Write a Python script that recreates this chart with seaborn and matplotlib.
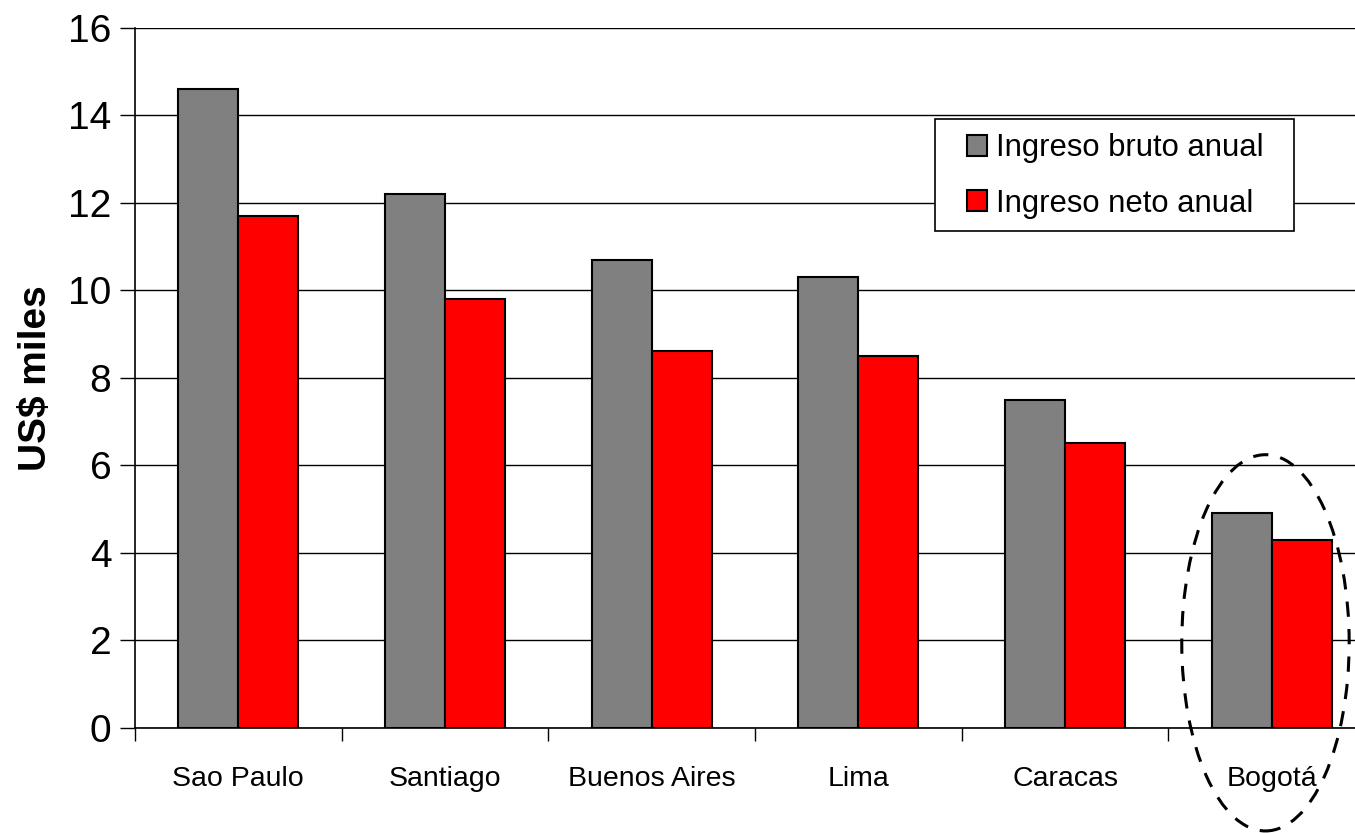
import matplotlib
matplotlib.use("Agg")
import matplotlib.pyplot as plt
from matplotlib.patches import Ellipse, Rectangle
import seaborn as sns
import pandas as pd

cities = ["Sao Paulo", "Santiago", "Buenos Aires", "Lima", "Caracas", "Bogotá"]
bruto = [14.6, 12.2, 10.7, 10.3, 7.5, 4.9]
neto = [11.7, 9.8, 8.6, 8.5, 6.5, 4.3]
series = ["Ingreso bruto anual", "Ingreso neto anual"]
y_ticks = [0, 2, 4, 6, 8, 10, 12, 14, 16]

df = pd.DataFrame({
    "city": cities * 2,
    "serie": [series[0]] * len(cities) + [series[1]] * len(cities),
    "value": bruto + neto,
})

sns.set_style("white", rc={"text.color": "black", "axes.labelcolor": "black",
                           "xtick.color": "black", "ytick.color": "black"})
plt.rcParams["font.family"] = ["Liberation Sans", "DejaVu Sans"]

fig = plt.figure(figsize=(13.55, 8.33), dpi=100)
ax = fig.add_axes([135/1355, 105.3/833, 1240/1355, 700/833])

sns.barplot(data=df, x="city", y="value", hue="serie", order=cities, hue_order=series,
            palette=["#808080", "#FF0000"], saturation=1, edgecolor="black", linewidth=1.5,
            width=0.58, gap=0, ax=ax, zorder=3)

ax.set_ylim(0, 16)
ax.set_xlim(-0.5, 5.5)
ax.set_yticks(y_ticks)
ax.yaxis.grid(True, color="black", linewidth=1, zorder=0)
ax.set_axisbelow(True)
for s in ["top", "right"]:
    ax.spines[s].set_visible(False)
for s in ["left", "bottom"]:
    ax.spines[s].set_color("black")
    ax.spines[s].set_linewidth(1.2)

ax.tick_params(axis="y", which="major", left=True, length=11, width=1, color="black",
               labelsize=28, pad=6, labelcolor="black")
ax.set_xticks([i - 0.5 for i in range(len(cities) + 1)], minor=True)
ax.tick_params(axis="x", which="major", bottom=False, labelsize=20.5, pad=24, labelcolor="black")
ax.tick_params(axis="x", which="minor", bottom=True, length=9, width=1, color="black")
ax.set_xlabel("")
ax.set_ylabel("US$ miles", fontsize=28, fontweight="bold", labelpad=10, color="black")

# legend frame drawn as a plain rectangle
box = Rectangle((935/1355, 1 - 231/833), (1294-935)/1355, (231-119)/833,
                transform=fig.transFigure, facecolor="white", edgecolor="black",
                linewidth=1.2, zorder=4, clip_on=False)
ax.add_patch(box)

leg = ax.legend(loc="center", bbox_to_anchor=((935+1294)/2/1355 + 1/1355, 1 - 176/833),
                bbox_transform=fig.transFigure, fontsize=22.3, frameon=False,
                handlelength=0.65, handleheight=0.65, handletextpad=0.3,
                labelspacing=0.81, borderpad=0.2, borderaxespad=0, title=None)
for t in leg.get_texts():
    t.set_color("black")
leg.set_zorder(5)

ell = Ellipse((4.97, 1.94), width=0.81, height=8.6, fill=False, edgecolor="black",
              linestyle=(0, (5, 4)), linewidth=2.2, clip_on=False, zorder=6)
ax.add_patch(ell)

fig.savefig("out.png", dpi=100)
